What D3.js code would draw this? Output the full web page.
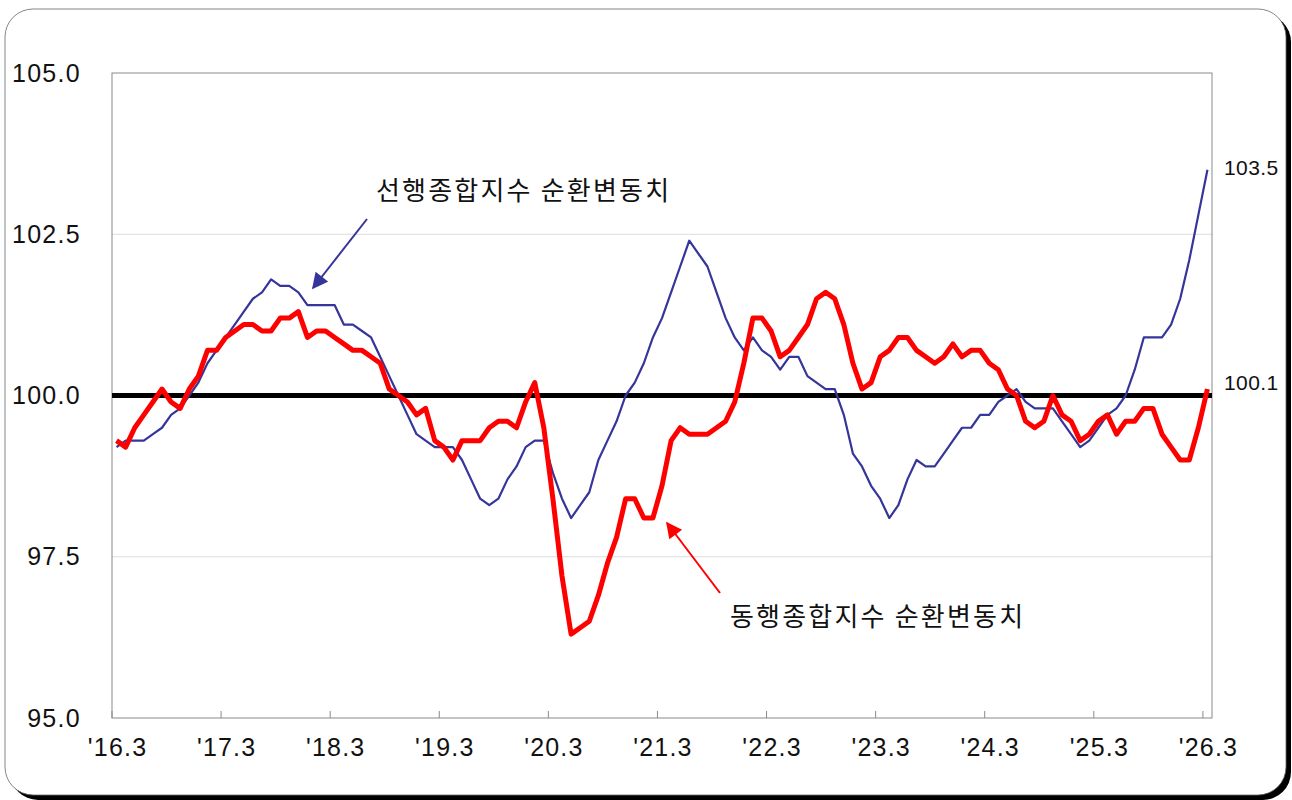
<!DOCTYPE html>
<html>
<head>
<meta charset="utf-8">
<script src="https://cdn.jsdelivr.net/npm/d3@7"></script>
<style>
  body { margin: 0; background: #fff; }
  svg { display: block; }
  .num { font-family: "Liberation Sans", Arial, sans-serif; fill: #111; }
  .kor { font-family: "Noto Sans CJK KR", sans-serif; fill: #111; }
</style>
</head>
<body>
<svg id="chart" width="1292" height="800"></svg>
<script>
// monthly cycle indices, '16.3 .. '26.3
const leading = [
  99.2, 99.3, 99.3, 99.3, 99.4, 99.5, 99.7, 99.8, 100.0, 100.2, 100.5, 100.7,
  100.9, 101.1, 101.3, 101.5, 101.6, 101.8, 101.7, 101.7, 101.6, 101.4, 101.4, 101.4,
  101.4, 101.1, 101.1, 101.0, 100.9, 100.6, 100.3, 100.0, 99.7, 99.4, 99.3, 99.2,
  99.2, 99.2, 99.0, 98.7, 98.4, 98.3, 98.4, 98.7, 98.9, 99.2, 99.3, 99.3,
  98.8, 98.4, 98.1, 98.3, 98.5, 99.0, 99.3, 99.6, 100.0, 100.2, 100.5, 100.9,
  101.2, 101.6, 102.0, 102.4, 102.2, 102.0, 101.6, 101.2, 100.9, 100.7, 100.9, 100.7,
  100.6, 100.4, 100.6, 100.6, 100.3, 100.2, 100.1, 100.1, 99.7, 99.1, 98.9, 98.6,
  98.4, 98.1, 98.3, 98.7, 99.0, 98.9, 98.9, 99.1, 99.3, 99.5, 99.5, 99.7,
  99.7, 99.9, 100.0, 100.1, 99.9, 99.8, 99.8, 99.8, 99.6, 99.4, 99.2, 99.3,
  99.5, 99.7, 99.8, 100.0, 100.4, 100.9, 100.9, 100.9, 101.1, 101.5, 102.1, 102.8,
  103.5
]
const coincident = [
  99.3, 99.2, 99.5, 99.7, 99.9, 100.1, 99.9, 99.8, 100.1, 100.3, 100.7, 100.7,
  100.9, 101.0, 101.1, 101.1, 101.0, 101.0, 101.2, 101.2, 101.3, 100.9, 101.0, 101.0,
  100.9, 100.8, 100.7, 100.7, 100.6, 100.5, 100.1, 100.0, 99.9, 99.7, 99.8, 99.3,
  99.2, 99.0, 99.3, 99.3, 99.3, 99.5, 99.6, 99.6, 99.5, 99.9, 100.2, 99.5,
  98.4, 97.2, 96.3, 96.4, 96.5, 96.9, 97.4, 97.8, 98.4, 98.4, 98.1, 98.1,
  98.6, 99.3, 99.5, 99.4, 99.4, 99.4, 99.5, 99.6, 99.9, 100.5, 101.2, 101.2,
  101.0, 100.6, 100.7, 100.9, 101.1, 101.5, 101.6, 101.5, 101.1, 100.5, 100.1, 100.2,
  100.6, 100.7, 100.9, 100.9, 100.7, 100.6, 100.5, 100.6, 100.8, 100.6, 100.7, 100.7,
  100.5, 100.4, 100.1, 100.0, 99.6, 99.5, 99.6, 100.0, 99.7, 99.6, 99.3, 99.4,
  99.6, 99.7, 99.4, 99.6, 99.6, 99.8, 99.8, 99.4, 99.2, 99.0, 99.0, 99.5,
  100.1
]
const yTicks = [95, 97.5, 100, 102.5, 105]
const xTickLabels = ["'16.3", "'17.3", "'18.3", "'19.3", "'20.3", "'21.3", "'22.3", "'23.3", "'24.3", "'25.3", "'26.3"]
const leadName = "선행종합지수 순환변동치"
const coinName = "동행종합지수 순환변동치"

// one category per month
const months = d3.range(leading.length)

const svg = d3.select("#chart")
const plotL = 112, plotR = 1212, plotT = 73, plotB = 718

// card frame with black shadow
svg.append("rect")
  .attr("x", 10).attr("y", 14).attr("width", 1281).attr("height", 786)
  .attr("rx", 28).attr("fill", "#000")
svg.append("rect")
  .attr("x", 5).attr("y", 9).attr("width", 1281).attr("height", 786)
  .attr("rx", 28).attr("fill", "#fff")
  .attr("stroke", "#666").attr("stroke-width", 0.8)

let x = d3.scaleBand().domain(months).range([plotL, plotR]).padding(0)
let y = d3.scaleLinear().domain([95, 105]).range([plotB, plotT])
const cx = i => x(i) + x.bandwidth() / 2

// grid
svg.append("g")
  .selectAll("line")
  .data([97.5, 102.5]).enter()
  .append("line")
  .attr("x1", plotL).attr("x2", plotR)
  .attr("y1", d => y(d)).attr("y2", d => y(d))
  .attr("stroke", "#dcdcdc").attr("stroke-width", 1)

// plot border
svg.append("rect")
  .attr("x", plotL).attr("y", plotT)
  .attr("width", plotR - plotL).attr("height", plotB - plotT)
  .attr("fill", "none").attr("stroke", "#8a8a8a").attr("stroke-width", 1)

// y labels
let yAxis = svg.append("g")
  .attr("transform", `translate(${plotL},0)`)
  .call(d3.axisLeft(y).tickValues(yTicks).tickSize(0).tickPadding(31).tickFormat(d3.format(".1f")))
yAxis.select(".domain").remove()
yAxis.selectAll("text")
  .attr("class", "num")
  .style("font-size", "25px").style("letter-spacing", "1.3px")

// x ticks at category boundaries, labels centered on category
const tickIdx = d3.range(0, months.length, 12)
svg.append("g")
  .selectAll("line")
  .data(tickIdx).enter()
  .append("line")
  .attr("x1", d => x(d)).attr("x2", d => x(d))
  .attr("y1", plotB).attr("y2", plotB - 7)
  .attr("stroke", "#8a8a8a").attr("stroke-width", 1)

svg.append("g")
  .selectAll("text")
  .data(tickIdx).enter()
  .append("text")
  .attr("class", "num")
  .attr("x", d => cx(d) + 1)
  .attr("y", 756)
  .attr("text-anchor", "middle")
  .style("font-size", "25px").style("letter-spacing", "1.2px")
  .text((d, i) => xTickLabels[i])

// 100 reference line
svg.append("line")
  .attr("x1", plotL).attr("x2", plotR)
  .attr("y1", y(100)).attr("y2", y(100))
  .attr("stroke", "#000").attr("stroke-width", 5)

let line_gen = d3.line()
  .x((d, i) => cx(i))
  .y(d => y(d))

svg.append("path")
  .datum(leading)
  .attr("d", line_gen)
  .attr("fill", "none").attr("stroke", "#35359a").attr("stroke-width", 2.2)
  .attr("stroke-linejoin", "round")

svg.append("path")
  .datum(coincident)
  .attr("d", line_gen)
  .attr("fill", "none").attr("stroke", "#ff0000").attr("stroke-width", 5)
  .attr("stroke-linejoin", "round")

// end value labels
const lastLead = leading[leading.length - 1], lastCoin = coincident[coincident.length - 1]
svg.append("g")
  .selectAll("text")
  .data([lastLead, lastCoin]).enter()
  .append("text")
  .attr("class", "num")
  .attr("x", 1224)
  .attr("y", (d, i) => y(d) + (i == 0 ? 5 : 1))
  .style("font-size", "21px").style("letter-spacing", "0.4px")
  .text(d => d3.format(".1f")(d))

// annotations
const defs = svg.append("defs")
;[["blueHead", "#35359a"], ["redHead", "#ff0000"]].forEach(([id, c]) => {
  defs.append("marker")
    .attr("id", id)
    .attr("viewBox", "0 0 10 10")
    .attr("refX", 9).attr("refY", 5)
    .attr("markerUnits", "userSpaceOnUse")
    .attr("markerWidth", 18).attr("markerHeight", 16)
    .attr("orient", "auto")
    .append("path")
    .attr("d", "M0,0 L10,5 L0,10 z")
    .attr("fill", c)
})

svg.append("line")
  .attr("x1", 367).attr("y1", 219).attr("x2", 313).attr("y2", 288)
  .attr("stroke", "#35359a").attr("stroke-width", 2)
  .attr("marker-end", "url(#blueHead)")
svg.append("line")
  .attr("x1", 720).attr("y1", 593).attr("x2", 667).attr("y2", 523)
  .attr("stroke", "#ff0000").attr("stroke-width", 2)
  .attr("marker-end", "url(#redHead)")

svg.append("text")
  .attr("class", "kor")
  .attr("x", 376).attr("y", 200)
  .style("font-size", "26px").style("letter-spacing", "2.2px")
  .text(leadName)
svg.append("text")
  .attr("class", "kor")
  .attr("x", 730).attr("y", 626)
  .style("font-size", "26px").style("letter-spacing", "2.2px")
  .text(coinName)
</script>
</body>
</html>
